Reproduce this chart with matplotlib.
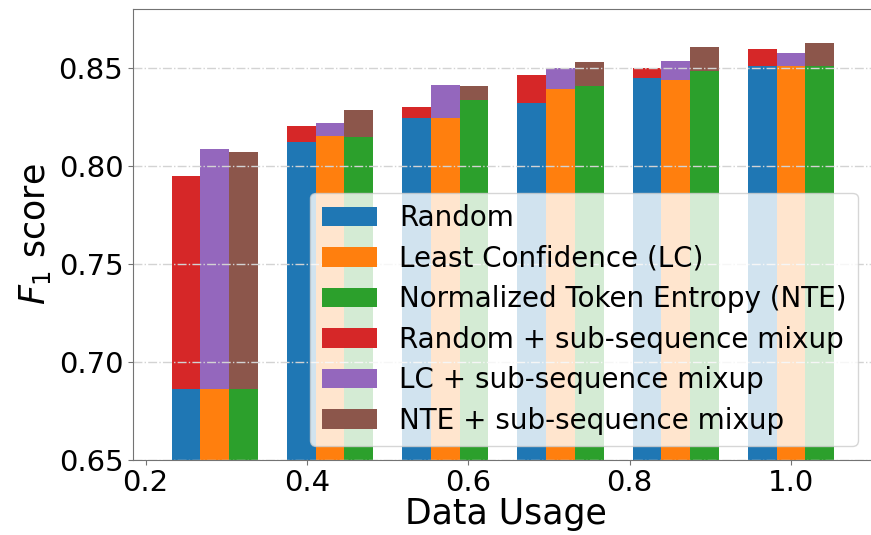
import matplotlib
matplotlib.use('Agg')
import matplotlib.pyplot as plt
import numpy as np

# data usage fractions (k/7)
usage = [2/7, 3/7, 4/7, 5/7, 6/7, 7/7]

# F1 scores
random_f1 = [0.686, 0.812, 0.8245, 0.832, 0.845, 0.851]
lc_f1 = [0.686, 0.815, 0.8245, 0.839, 0.844, 0.851]
nte_f1 = [0.686, 0.8146, 0.8334, 0.8407, 0.8485, 0.851]
random_mix_f1 = [0.7947, 0.8204, 0.8298, 0.8461, 0.8498, 0.8594]
lc_mix_f1 = [0.8084, 0.8219, 0.8412, 0.850, 0.8533, 0.8575]
nte_mix_f1 = [0.8071, 0.8283, 0.8407, 0.8529, 0.8606, 0.8626]

labels = ['Random', 'Least Confidence (LC)', 'Normalized Token Entropy (NTE)',
          'Random + sub-sequence mixup', 'LC + sub-sequence mixup',
          'NTE + sub-sequence mixup']

plt.rc('font', size=21)

fig = plt.figure(figsize=(8.71, 5.35), dpi=100)
ax = fig.add_axes([0.1527, 0.1411, 0.8573, 0.8421])

x = np.array(usage)
w = 1/28
bottom = 0.65

# mixup bars drawn full height, plain strategies drawn over them
h_rm = ax.bar(x - w, np.array(random_mix_f1) - bottom, w, bottom=bottom, color='tab:red', label=labels[3])
h_lm = ax.bar(x, np.array(lc_mix_f1) - bottom, w, bottom=bottom, color='tab:purple', label=labels[4])
h_nm = ax.bar(x + w, np.array(nte_mix_f1) - bottom, w, bottom=bottom, color='tab:brown', label=labels[5])
h_r = ax.bar(x - w, np.array(random_f1) - bottom, w, bottom=bottom, color='tab:blue', label=labels[0])
h_l = ax.bar(x, np.array(lc_f1) - bottom, w, bottom=bottom, color='tab:orange', label=labels[1])
h_n = ax.bar(x + w, np.array(nte_f1) - bottom, w, bottom=bottom, color='tab:green', label=labels[2])

ax.set_ylim(0.65, 0.88)
ax.set_xlim(0.1843, 1.110)
ax.set_yticks([0.65, 0.70, 0.75, 0.80, 0.85])
ax.set_xticks([0.2, 0.4, 0.6, 0.8, 1.0])
ax.yaxis.grid(True, linestyle='-.', color='lightgray', linewidth=1)

for s in ax.spines.values():
    s.set_color('0.45')
ax.tick_params(color='0.45')

ax.set_xlabel('Data Usage', fontsize=25, labelpad=0)
ax.set_ylabel('$F_1$ score', fontsize=25)

leg = ax.legend(handles=[h_r, h_l, h_n, h_rm, h_lm, h_nm], loc='lower right', fontsize=20,
                labelspacing=0.45, bbox_to_anchor=(0.9895, 0.0))

plt.savefig('out.png', dpi=100)
